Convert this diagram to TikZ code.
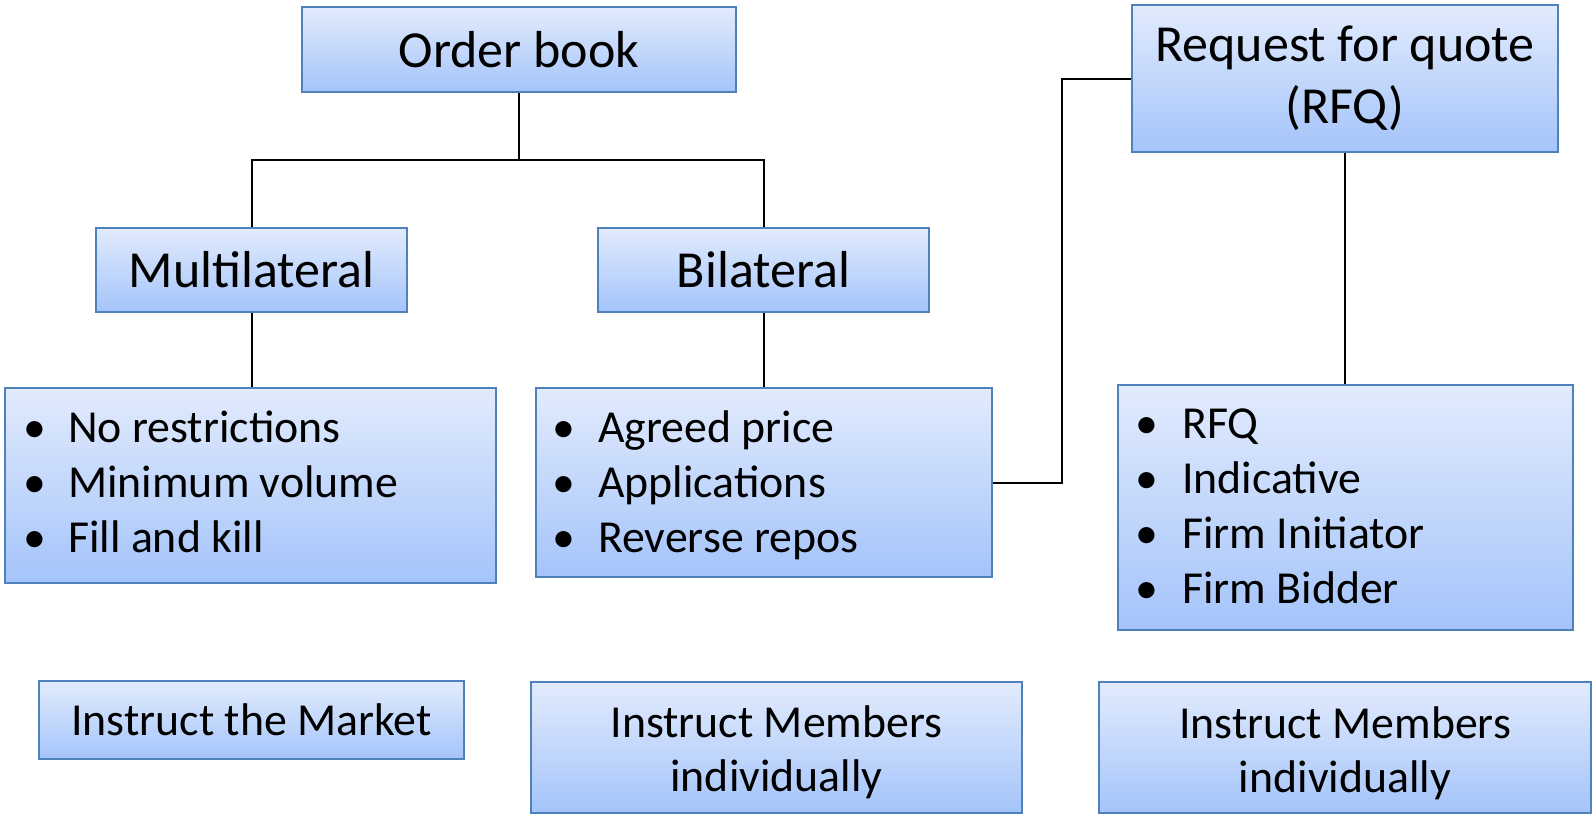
\documentclass[tikz,border=0pt]{standalone}
\usepackage{fontspec}
\setmainfont{Carlito}
\definecolor{boxtop}{RGB}{226,235,253}
\definecolor{boxbot}{RGB}{164,196,250}
\definecolor{boxline}{RGB}{79,129,189}
\tikzset{
  box/.style={draw=boxline, line width=2pt, top color=boxtop, bottom color=boxbot,
    inner sep=0pt, align=center},
  big/.style={font=\fontsize{52}{62}\selectfont},
  small/.style={font=\fontsize{45.8}{54}\selectfont},
  item/.style={anchor=base west, inner sep=0pt, font=\fontsize{45.8}{54}\selectfont},
  dot/.style={anchor=base, inner sep=0pt, font=\fontsize{45.8}{54}\selectfont},
  line/.style={anchor=base, inner sep=0pt, font=\fontsize{45.8}{54}\selectfont},
  conn/.style={draw=black, line width=2pt}
}
\begin{document}
\begin{tikzpicture}[x=1pt,y=-1pt]
\useasboundingbox (0,0) rectangle (1595,814);
% boxes
\node[box,big,minimum width=434pt,minimum height=85pt] (ob) at (519,49.5) {Order book};
\node[box,big,minimum width=426pt,minimum height=147pt] (rfq) at (1345,78.5) {Request for quote\\(RFQ)};
\node[box,big,minimum width=311pt,minimum height=84pt] (ml) at (251.5,270) {Multilateral};
\node[box,big,minimum width=331pt,minimum height=84pt] (bl) at (763.5,270) {Bilateral};
\node[box,minimum width=491pt,minimum height=195pt] (mb) at (250.5,485.5) {};
\node[box,minimum width=456pt,minimum height=189pt] (bb) at (764,482.5) {};
\node[box,minimum width=455pt,minimum height=245pt] (rb) at (1345.5,507.5) {};
\node[box,small,minimum width=425pt,minimum height=78pt] (im) at (251.5,720) {Instruct the Market};
\node[box,minimum width=491pt,minimum height=131pt] (m1) at (776.5,747.5) {};
\node[box,minimum width=492pt,minimum height=131pt] (m2) at (1345,747.5) {};
\node[line] (m1a) at (776.5,737) {Instruct Members};
\node[line] (m1b) at (776.5,791) {individually};
\node[line] (m2a) at (1345,738) {Instruct Members};
\node[line] (m2b) at (1345,792) {individually};
% bullet lists
\node[dot] (mbd1) at (35,442) {•};
\node[dot] (mbd2) at (35,497) {•};
\node[dot] (mbd3) at (35,552) {•};
\node[item] (mbt1) at (68,442) {No restrictions};
\node[item] (mbt2) at (68,497) {Minimum volume};
\node[item] (mbt3) at (68,552) {Fill and kill};
\node[dot] (bbd1) at (564,442) {•};
\node[dot] (bbd2) at (564,497) {•};
\node[dot] (bbd3) at (564,552) {•};
\node[item] (bbt1) at (598,442) {Agreed price};
\node[item] (bbt2) at (598,497) {Applications};
\node[item] (bbt3) at (598,552) {Reverse repos};
\node[dot] (rbd1) at (1147,438) {•};
\node[dot] (rbd2) at (1147,493) {•};
\node[dot] (rbd3) at (1147,548) {•};
\node[dot] (rbd4) at (1147,603) {•};
\node[item] (rbt1) at (1182,438) {RFQ};
\node[item] (rbt2) at (1182,493) {Indicative};
\node[item] (rbt3) at (1182,548) {Firm Initiator};
\node[item] (rbt4) at (1182,603) {Firm Bidder};
% connectors
\coordinate (j) at (519,160);
\coordinate (k) at (1062,0);
\draw[conn] (ob.south) -- (j);
\draw[conn] (ml.north) |- (j);
\draw[conn] (bl.north) |- (j);
\draw[conn] (ml.south) -- (ml.south |- mb.north);
\draw[conn] (bl.south) -- (bl.south |- bb.north);
\draw[conn] (rfq.south) -- (rfq.south |- rb.north);
\draw[conn] (bb.east) -- (bb.east -| k) |- (rfq.west);
\end{tikzpicture}
\end{document}
